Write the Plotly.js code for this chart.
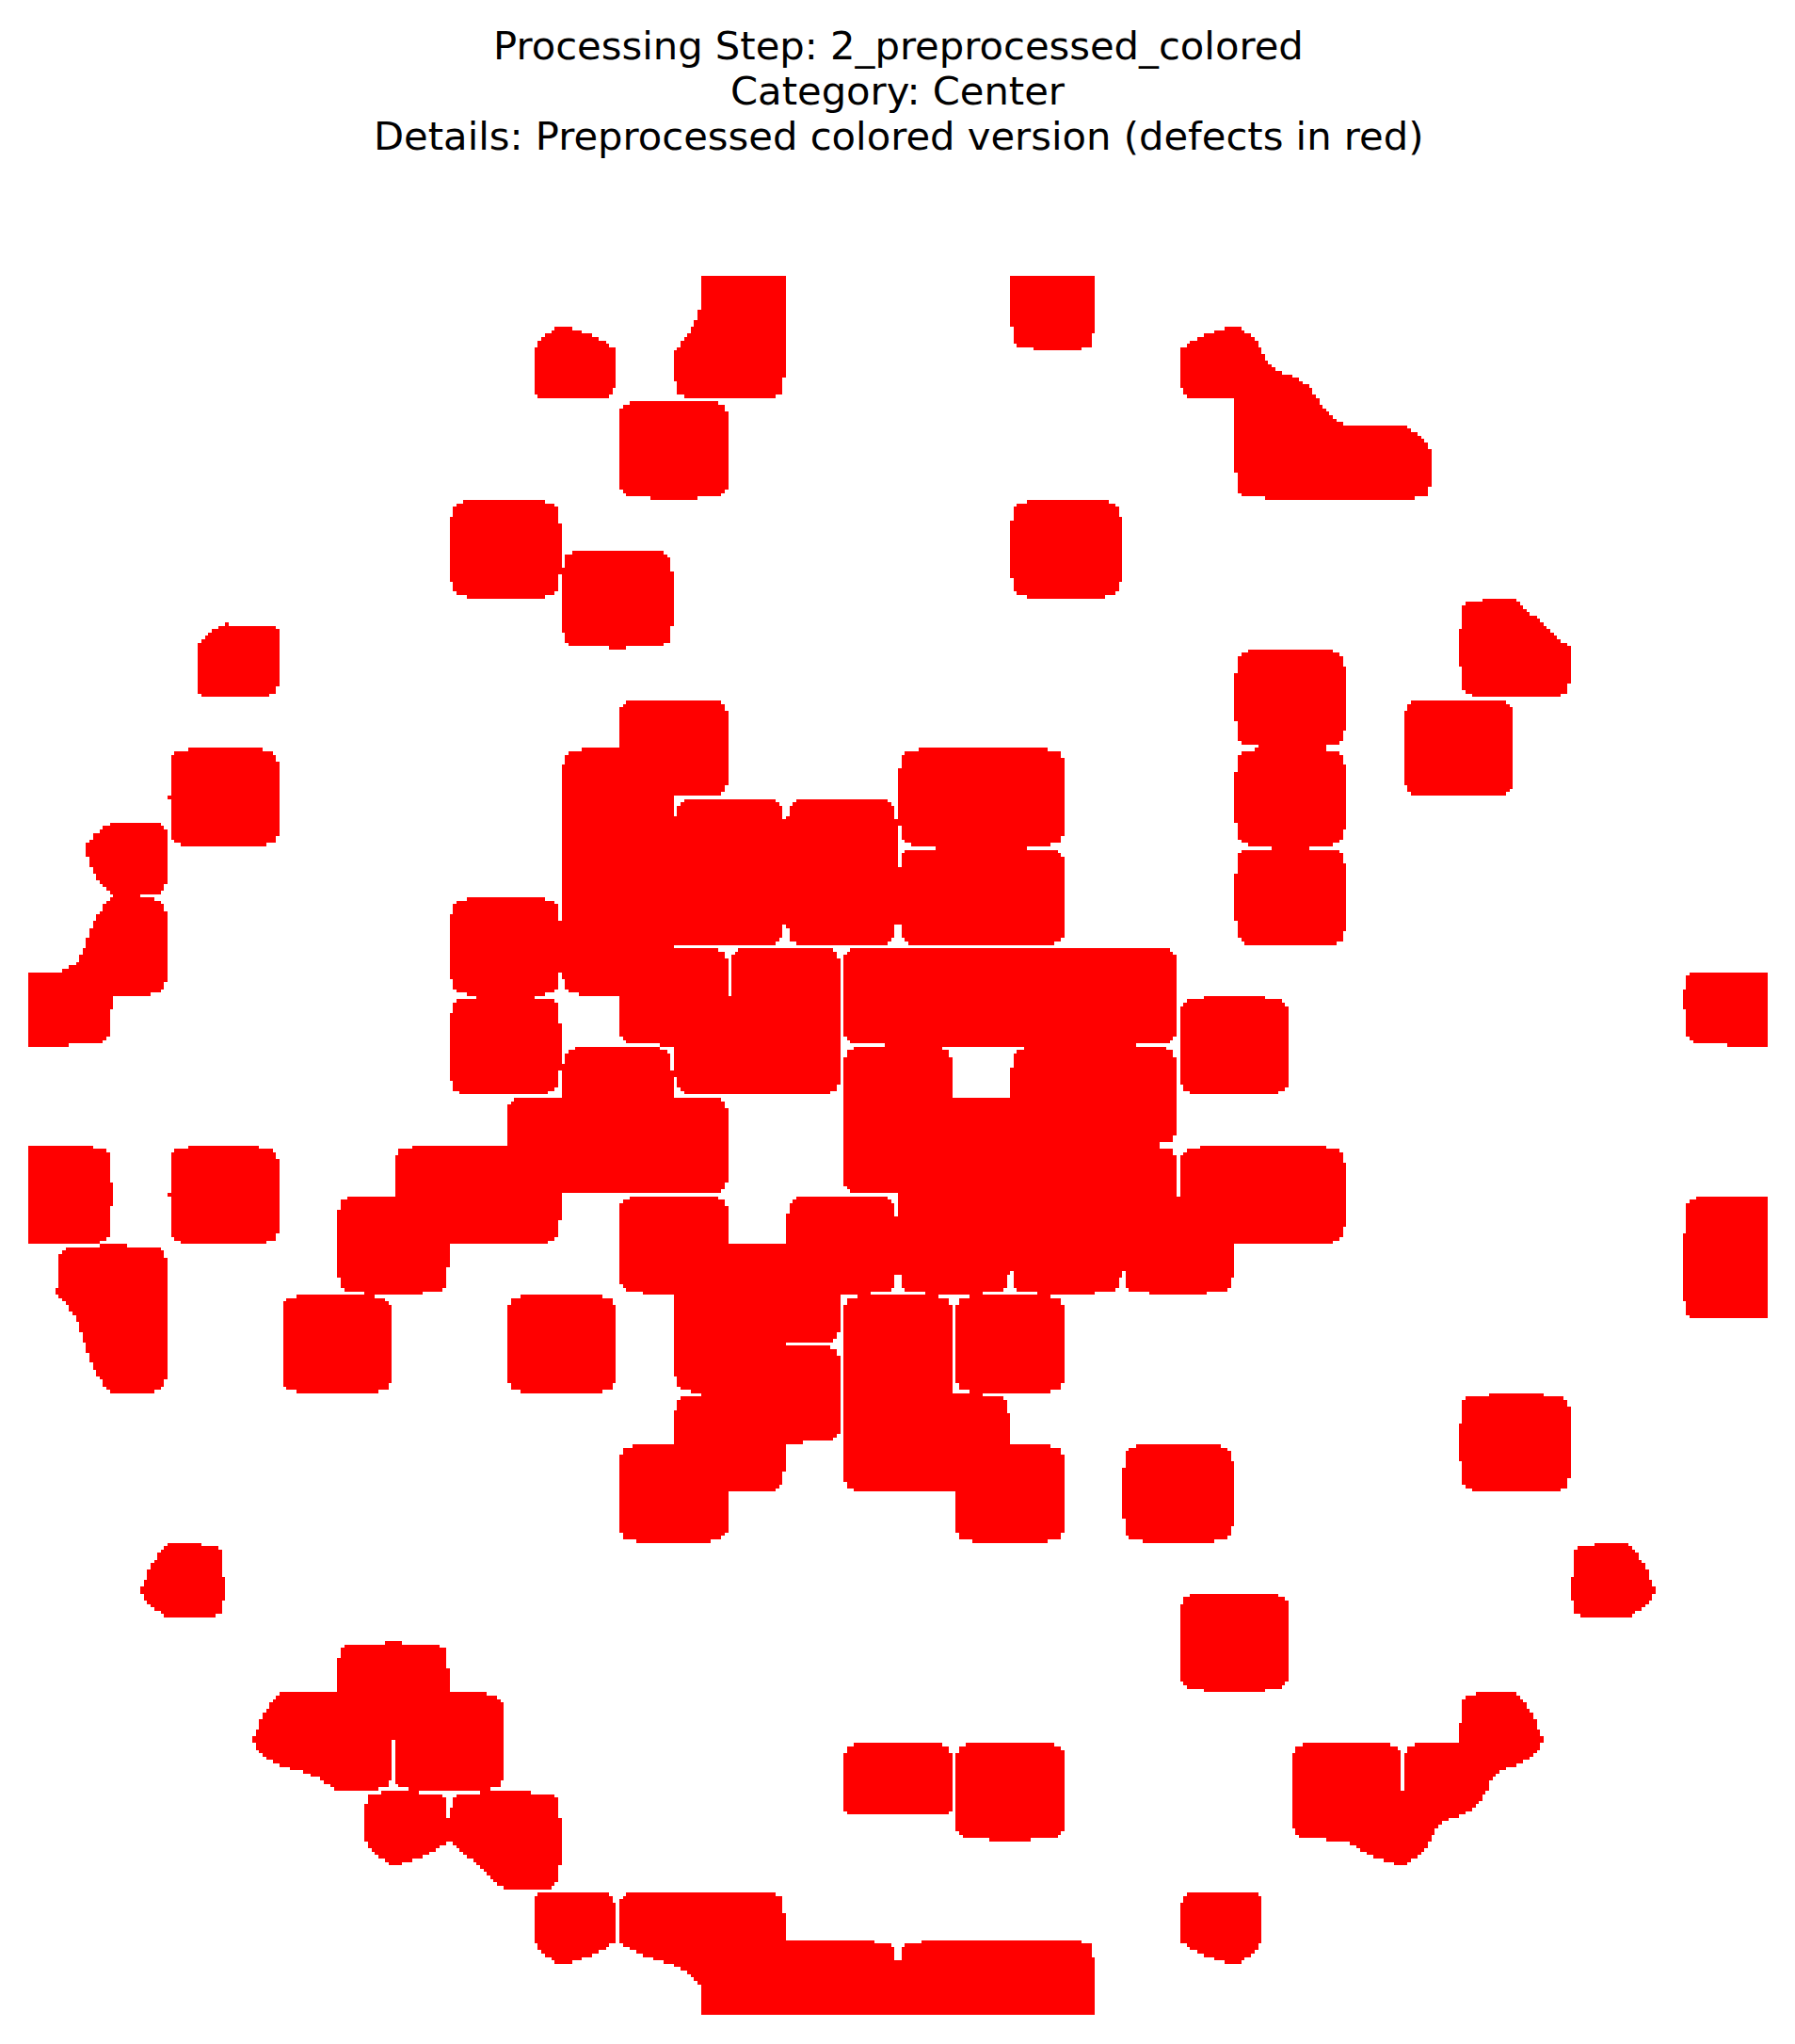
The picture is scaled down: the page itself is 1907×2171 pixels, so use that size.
<!DOCTYPE html>
<html>
<head>
<meta charset="utf-8">
<script src="https://cdn.plot.ly/plotly-3.0.1.min.js"></script>
<style>
html,body{margin:0;padding:0;background:#ffffff;}
#chart{width:1907px;height:2171px;}
</style>
</head>
<body>
<div id="chart"></div>
<script>
// ---------------- data ----------------
const titleLines = [
  "Processing Step: 2_preprocessed_colored",
  "Category: Center",
  "Details: Preprocessed colored version (defects in red)"
];
// wafer die grid (rows x cols)
const gridRows = 35;
const gridCols = 31;
const waferCenterCol = 15;
// half width (in dies) of the wafer for every die row
const waferHalfWidth = [3,6,7,9,10,11,11,12,13,13,13,14,14,14,15,15,15,15,15,15,15,14,14,14,13,13,13,12,11,11,10,9,7,6,3];
// dies missing inside the wafer [row, col]
const missingDies = [[31,15]];
// defective dies [row, col]
const defectDies = [
  [0,12],[0,18],
  [1,9],[1,12],[1,21],
  [2,22],
  [3,11],[3,22],[3,23],[3,24],
  [5,8],[5,18],
  [6,10],
  [7,3],[7,26],
  [8,22],
  [9,11],[9,25],
  [10,3],[10,10],[10,16],[10,17],[10,22],
  [11,1],[11,10],[11,12],[11,14],
  [12,10],[12,11],[12,12],[12,14],[12,16],[12,17],[12,22],
  [13,1],[13,8],[13,10],
  [14,0],[14,11],[14,13],[14,15],[14,16],[14,17],[14,18],[14,19],[14,30],
  [15,8],[15,12],[15,13],[15,21],
  [16,10],[16,15],[16,18],[16,19],
  [17,9],[17,10],[17,11],[17,15],[17,16],[17,17],[17,18],
  [18,0],[18,3],[18,7],[18,8],[18,16],[18,17],[18,18],[18,19],[18,21],[18,22],
  [19,6],[19,11],[19,14],[19,16],[19,18],[19,20],[19,30],
  [20,1],[20,12],[20,13],[20,30],
  [21,1],[21,5],[21,9],[21,12],[21,15],[21,17],
  [22,13],[22,15],
  [23,12],[23,15],[23,16],[23,26],
  [24,11],[24,17],[24,20],
  [26,2],[26,28],
  [27,21],
  [28,6],
  [29,4],[29,5],[29,7],[29,26],
  [30,15],[30,17],[30,23],[30,25],
  [31,6],[31,8],[31,24],
  [33,9],[33,11],[33,12],[33,21],
  [34,12],[34,13],[34,14],[34,16],[34,17],[34,18]
];
// die codes: 0 = outside wafer, 1 = normal die, 2 = defect die
const codeOutside = 0, codeNormal = 1, codeDefect = 2;
// preprocessed image size and defect threshold on the resized map
const imageSize = 512;
const defectThreshold = 1.0125;

// ---------------- build die map ----------------
const dieMap = [];
for (let r = 0; r < gridRows; r++) {
  const row = [];
  for (let c = 0; c < gridCols; c++) {
    row.push(Math.abs(c - waferCenterCol) <= waferHalfWidth[r] ? codeNormal : codeOutside);
  }
  dieMap.push(row);
}
missingDies.forEach(([r, c]) => { dieMap[r][c] = codeOutside; });
defectDies.forEach(([r, c]) => { dieMap[r][c] = codeDefect; });

// ---------------- bilinear resize to the preprocessed image ----------------
function clamp(v, lo, hi) { return v < lo ? lo : (v > hi ? hi : v); }
const z = [];
for (let j = 0; j < imageSize; j++) {
  const sy = clamp((j + 0.5) * gridRows / imageSize - 0.5, 0, gridRows - 1);
  const r0 = Math.min(Math.floor(sy), gridRows - 2);
  const fy = sy - r0;
  const zr = new Array(imageSize);
  for (let i = 0; i < imageSize; i++) {
    const sx = clamp((i + 0.5) * gridCols / imageSize - 0.5, 0, gridCols - 1);
    const c0 = Math.min(Math.floor(sx), gridCols - 2);
    const fx = sx - c0;
    const v = dieMap[r0][c0] * (1 - fx) * (1 - fy) +
              dieMap[r0][c0 + 1] * fx * (1 - fy) +
              dieMap[r0 + 1][c0] * (1 - fx) * fy +
              dieMap[r0 + 1][c0 + 1] * fx * fy;
    zr[i] = v > defectThreshold ? 1 : 0;
  }
  z.push(zr);
}

// ---------------- plot ----------------
const W = 1907, H = 2171;
const margin = {l: 30, r: 29, t: 293, b: 31, pad: 0};
const plotH = H - margin.t - margin.b;
function paperY(px) { return 1 + (margin.t - px) / plotH; }
const titleCentersPx = [48.3, 96.7, 145];

const trace = {
  type: 'heatmap',
  z: z,
  zmin: 0, zmax: 1,
  colorscale: [[0, '#ffffff'], [1, '#ff0000']],
  showscale: false,
  zsmooth: false,
  hoverinfo: 'skip'
};

const layout = {
  width: W, height: H,
  margin: margin,
  paper_bgcolor: '#ffffff',
  plot_bgcolor: '#ffffff',
  showlegend: false,
  xaxis: {range: [-0.5, imageSize - 0.5], visible: false, fixedrange: true},
  yaxis: {range: [imageSize - 0.5, -0.5], visible: false, fixedrange: true},
  annotations: titleLines.map((t, k) => ({
    text: t, xref: 'paper', yref: 'paper', x: 0.5, y: paperY(titleCentersPx[k]),
    xanchor: 'center', yanchor: 'middle', showarrow: false,
    font: {family: 'DejaVu Sans', size: 41.7, color: '#000000'}
  }))
};

Plotly.newPlot('chart', [trace], layout, {staticPlot: true, displayModeBar: false});
</script>
</body>
</html>
